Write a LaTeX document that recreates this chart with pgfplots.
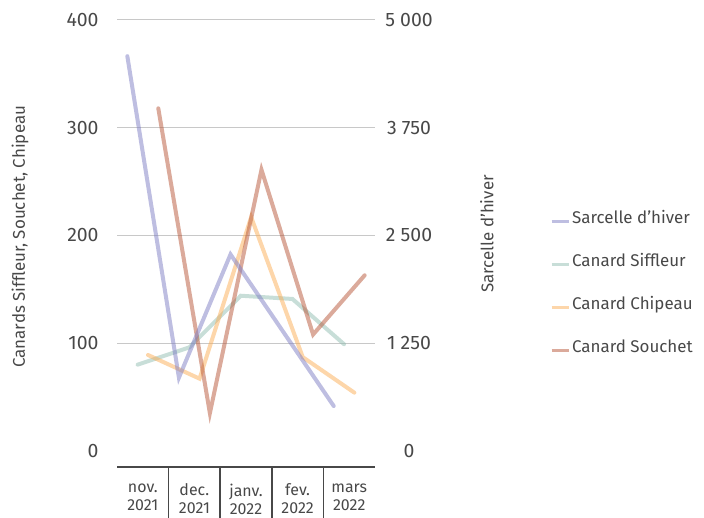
\documentclass[border=0pt]{standalone}
\usepackage{pgfplots}
\pgfplotsset{compat=1.18}
\usepackage{fontspec}
\setmainfont{Fira Sans}
\definecolor{txt}{HTML}{484848}
\definecolor{cSar}{RGB}{125,125,195}
\definecolor{cSif}{RGB}{145,189,177}
\definecolor{cChi}{RGB}{251,173,85}
\definecolor{cSou}{RGB}{183,85,55}
\definecolor{gridc}{HTML}{C8C8C8}
\begin{document}
\begin{tikzpicture}[x=1bp,y=1bp]
\path[use as bounding box] (0,0) rectangle (704,518);
\pgfplotsset{
  base/.style={
    at={(117bp,51bp)}, anchor=south west,
    scale only axis, width=258bp, height=447bp,
    xmin=-0.5, xmax=4.5, ymin=-15, ymax=400,
    /pgf/number format/assume math mode=true,
    tick label style={font=\fontsize{19.5}{22}\selectfont, text=txt},
    label style={font=\fontsize{17}{20}\selectfont, text=txt},
    clip=false,
  },
  sty/.style={line width=4bp, line cap=round, line join=miter, opacity=0.5},
}
\begin{axis}[base,
  axis x line*=bottom, axis y line*=left,
  x axis line style={draw=txt, line width=2bp, -},
  y axis line style={draw=none},
  xtick={0,1,2,3,4},
  xticklabels={{nov.\\2021},{dec.\\2021},{janv.\\2022},{fev.\\2022},{mars\\2022}},
  xticklabel style={align=center, font=\fontsize{16}{18}\selectfont, text=txt, yshift=-9bp},
  major x tick style={draw=none},
  minor xtick={0.5,1.5,2.5,3.5},
  minor tick length=52bp, tick align=outside,
  minor x tick style={draw=txt, line width=1.5bp},
  ytick={100,200,300,400},
  extra y ticks={0}, extra y tick style={grid=none},
  ymajorgrids, grid style={gridc, line width=1bp},
  major y tick style={draw=none},
  yticklabel style={anchor=east, inner sep=0pt, xshift=-14bp},
  ylabel={Canards Siffleur, Souchet, Chipeau},
  ylabel style={at={(axis description cs:-0.376,0.515)}, anchor=center},
]
\addplot[sty, cSif] table {
x y
-0.1 80
0.9 96
1.9 144
2.9 141
3.9 99
};
\addplot[sty, cChi] table {
x y
0.1 89
1.1 67
2.1 217
3.1 87
4.1 54
};
\addplot[sty, cSou] table {
x y
0.3 318
1.3 35
2.3 261
3.3 108
4.3 163
};
\end{axis}
\begin{axis}[base,
  ymin=-187.5, ymax=5000,
  axis x line=none, axis y line*=right,
  y axis line style={draw=none},
  ytick={0,1250,2500,3750,5000},
  yticklabels={0,1 250,2 500,3 750,5 000},
  major y tick style={draw=none},
  yticklabel style={anchor=center, inner sep=0pt, xshift=34bp},
  ylabel={Sarcelle d’hiver},
  ylabel style={at={(axis description cs:1.434,0.521)}, anchor=center},
  legend style={at={(axis description cs:1.678,0.58)}, anchor=north west,
    draw=none, fill=none, font=\fontsize{17}{20}\selectfont, text=txt,
    row sep=24.5bp, inner sep=0pt},
  legend cell align=left,
  legend image code/.code={\draw[#1, line width=3bp, line cap=butt] (0bp,-4bp) -- (17bp,-4bp);},
]
\addplot[sty, cSar] table {
x y
-0.3 4580
0.7 850
1.7 2280
2.7 1400
3.7 520
};
\addlegendentry{Sarcelle d’hiver}
\addlegendimage{sty, cSif}
\addlegendentry{Canard Siffleur}
\addlegendimage{sty, cChi}
\addlegendentry{Canard Chipeau}
\addlegendimage{sty, cSou}
\addlegendentry{Canard Souchet}
\end{axis}
\end{tikzpicture}
\end{document}
